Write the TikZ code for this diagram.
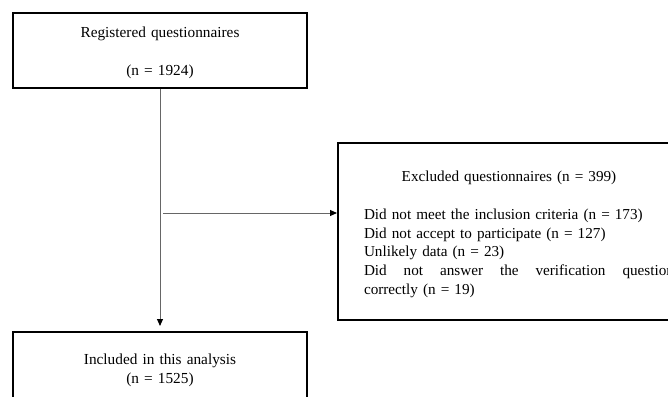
\documentclass[tikz,border=0pt]{standalone}
\usepackage{fontspec}
\setmainfont{Liberation Serif}
\usetikzlibrary{arrows.meta}
\tikzset{
  flowbox/.style={draw,line width=2pt,inner sep=0pt,align=center,text width=290pt,
    font=\fontsize{15.3}{19}\selectfont},
  flowarrow/.style={draw=black!60,line width=1pt,
    -{Triangle[length=7pt,width=6pt,color=black]}},
}
\def\lift{\rule{0pt}{16pt}}

\begin{document}
\begin{tikzpicture}[x=1pt,y=-1pt]
    \useasboundingbox (0,0) rectangle (668,396);
    \clip (0,0) rectangle (668,396);
    \node[flowbox,minimum width=294pt,minimum height=74pt] (reg) at (160,50.5)
        {\lift Registered questionnaires\\[19pt](n = 1924)};
    \node[flowbox,minimum width=294pt,minimum height=72pt] (incl) at (160,368)
        {\rule{0pt}{14.5pt}Included in this analysis\\(n = 1525)};
    \node[flowbox,align=left,text width=310pt,minimum height=177pt,inner xsep=26pt,
        anchor=west,font=\fontsize{15.2}{18.6}\selectfont] (excl) at (337,231.5)
        {\lift\makebox[290pt]{Excluded questionnaires (n = 399)}\\[19.5pt]
         Did not meet the inclusion criteria (n = 173)\\
         Did not accept to participate (n = 127)\\
         Unlikely data (n = 23)\\
         \makebox[310pt][l]{Did\hfill not\hfill answer\hfill the\hfill verification\hfill question}\\
         correctly (n = 19)};
    \coordinate (split) at (160,213);
    \draw[flowarrow] (reg.south) -- ([yshift=5pt]incl.north);
    \draw[flowarrow] ([xshift=3pt]split) -- (split -| excl.west);
\end{tikzpicture}
\end{document}
